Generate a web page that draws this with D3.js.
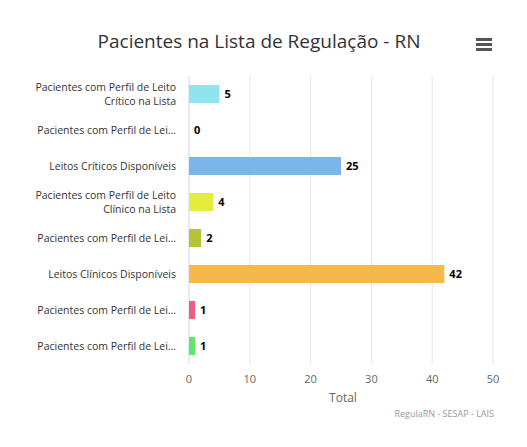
<!DOCTYPE html><html><head><meta charset="utf-8"><script src="https://cdn.jsdelivr.net/npm/d3@7"></script>
<style>body{margin:0;background:#fff;font-family:"Open Sans","DejaVu Sans",sans-serif}</style></head><body><svg id="c" width="527" height="447"></svg><script>
const categories=[["Pacientes com Perfil de Leito","Crítico na Lista"],["Pacientes com Perfil de Lei…"],["Leitos Críticos Disponíveis"],["Pacientes com Perfil de Leito","Clínico na Lista"],["Pacientes com Perfil de Lei…"],["Leitos Clínicos Disponíveis"],["Pacientes com Perfil de Lei…"],["Pacientes com Perfil de Lei…"]];
const values=[5,0,25,4,2,42,1,1];
const colors=["#91e3ee","#7cb5ec","#7cb5ec","#e4ee3a","#b5c334","#f7b84b","#f15c80","#5ee86b"];
const ticks=[0,10,20,30,40,50];
const svg=d3.select("#c");
const x=d3.scaleLinear().domain([0,50]).range([189,493]);
const y=d3.scaleBand().domain(d3.range(8)).range([76,364]).paddingInner(0.5).paddingOuter(0.25);
svg.append("text").attr("x",259).attr("y",48).attr("text-anchor","middle").attr("font-size",19).attr("fill","#333").text("Pacientes na Lista de Regulação - RN");
[0,5,10].forEach(d=>svg.append("rect").attr("x",476).attr("y",38+d).attr("width",16).attr("height",3).attr("fill","#555"));
svg.append("g").selectAll("line").data(ticks).join("line").attr("x1",d=>x(d)).attr("x2",d=>x(d)).attr("y1",76).attr("y2",364).attr("stroke",(d)=>d==0?"#ccd6eb":"#e6e6e6");
svg.append("g").selectAll("text").data(ticks).join("text").attr("x",d=>x(d)).attr("y",383).attr("text-anchor","middle").attr("font-size",11).attr("fill","#666").text(d=>d);
svg.append("text").attr("x",343).attr("y",402).attr("text-anchor","middle").attr("font-size",12).attr("fill","#666").text("Total");
svg.append("text").attr("x",494).attr("y",417).attr("text-anchor","end").attr("font-size",9).attr("fill","#999").text("RegulaRN - SESAP - LAIS");
const g=svg.append("g").selectAll("g").data(values).join("g");
g.append("rect").attr("x",x(0)).attr("y",(d,i)=>y(i)).attr("height",y.bandwidth()).attr("width",d=>x(d)-x(0)).attr("fill",(d,i)=>colors[i]);
g.append("text").attr("x",d=>x(d)+5).attr("y",(d,i)=>y(i)+y.bandwidth()/2+4).attr("font-size",11).attr("font-weight","bold").attr("fill","#000").text(d=>d);
categories.forEach((c,i)=>{const cy=y(i)+y.bandwidth()/2;
c.forEach((s,j)=>svg.append("text").attr("text-anchor","end").attr("font-size",10.5).attr("fill","#333").attr("x",176).attr("y",cy+4+(j-(c.length-1)/2)*14).text(s));});
</script></body></html>
